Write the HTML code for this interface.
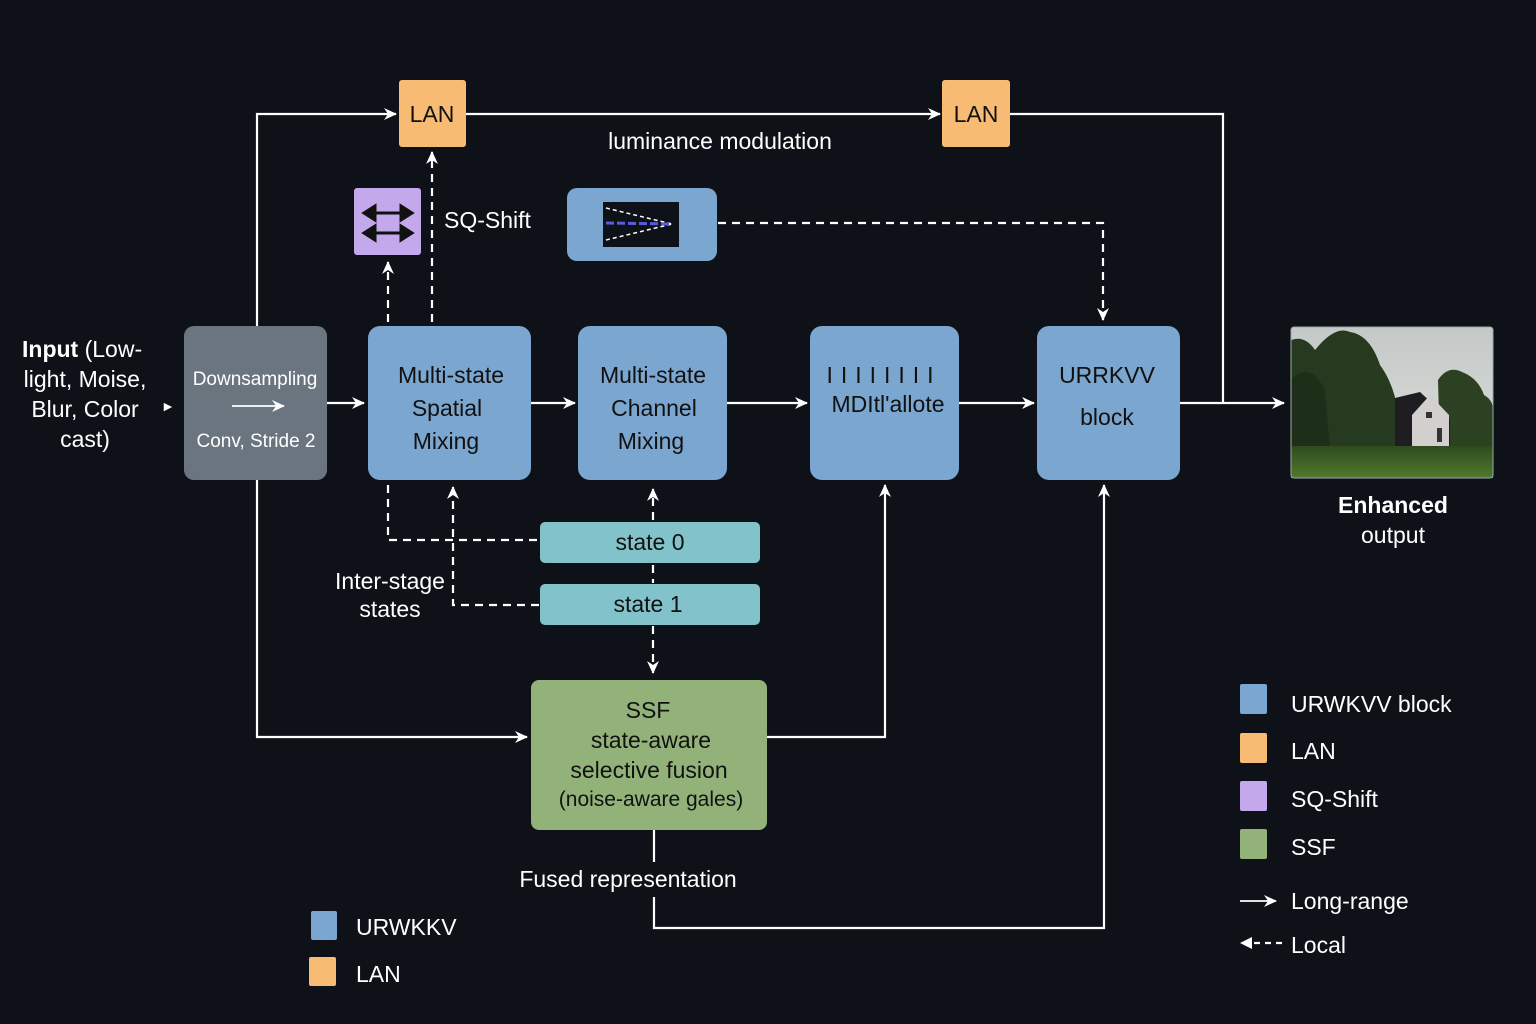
<!DOCTYPE html>
<html><head><meta charset="utf-8"><style>
html,body{margin:0;padding:0;background:#0e1118;}
svg{display:block}
text{font-family:"Liberation Sans","DejaVu Sans",sans-serif;}
</style></head><body>
<svg width="1536" height="1024" viewBox="0 0 1536 1024" xmlns="http://www.w3.org/2000/svg">
<defs>
<marker id="a" markerWidth="14" markerHeight="12" refX="12" refY="6" orient="auto" markerUnits="userSpaceOnUse"><path d="M0,0 L13,6 L0,12 L4,6 Z" fill="#fff"/></marker>
<linearGradient id="sky" x1="0" y1="0" x2="0" y2="1"><stop offset="0" stop-color="#c4c8c6"/><stop offset="1" stop-color="#dfe2de"/></linearGradient>
<linearGradient id="grass" x1="0" y1="0" x2="0" y2="1"><stop offset="0" stop-color="#2f4a1e"/><stop offset="1" stop-color="#4f7a2c"/></linearGradient>
</defs>
<rect width="1536" height="1024" fill="#0e1118"/>
<g stroke="#fff" stroke-width="2.2" fill="none">
<polyline points="257,326 257,114 396,114" marker-end="url(#a)"/>
<line x1="466" y1="114" x2="940" y2="114" marker-end="url(#a)"/>
<polyline points="1010,114 1223,114 1223,403"/>
<line x1="1180" y1="403" x2="1284" y2="403" marker-end="url(#a)"/>
<line x1="327" y1="403" x2="364" y2="403" marker-end="url(#a)"/>
<line x1="531" y1="403" x2="575" y2="403" marker-end="url(#a)"/>
<line x1="727" y1="403" x2="807" y2="403" marker-end="url(#a)"/>
<line x1="959" y1="403" x2="1034" y2="403" marker-end="url(#a)"/>
<polyline points="257,480 257,737 527,737" marker-end="url(#a)"/>
<polyline points="767,737 885,737 885,485" marker-end="url(#a)"/>
<line x1="654" y1="830" x2="654" y2="862"/>
<polyline points="654,897 654,928 1104,928 1104,485" marker-end="url(#a)"/>
<line x1="1240" y1="901" x2="1276" y2="901" stroke-width="1.8" marker-end="url(#a)"/>
</g>
<g stroke="#fff" stroke-width="2.2" fill="none" stroke-dasharray="8,6">
<line x1="432" y1="322" x2="432" y2="152" marker-end="url(#a)"/>
<line x1="388" y1="322" x2="388" y2="262" marker-end="url(#a)"/>
<polyline points="718,223 1103,223 1103,320" marker-end="url(#a)"/>
<polyline points="388,485 388,540 539,540"/>
<polyline points="539,605 453,605 453,487" marker-end="url(#a)"/>
<line x1="653" y1="520" x2="653" y2="489" marker-end="url(#a)"/>
<line x1="653" y1="565" x2="653" y2="583"/>
<line x1="653" y1="626" x2="653" y2="673" marker-end="url(#a)"/>
<line x1="1282" y1="943" x2="1250" y2="943" stroke-dasharray="6,5"/>
</g>
<path d="M1240,943 L1252,937 L1252,949 Z" fill="#fff"/>
<rect x="184" y="326" width="143" height="154" rx="10" fill="#6b7580"/>
<line x1="232" y1="406" x2="284" y2="406" stroke="#fff" stroke-width="1.8" marker-end="url(#a)"/>
<rect x="368" y="326" width="163" height="154" rx="12" fill="#7ba6cf"/>
<rect x="578" y="326" width="149" height="154" rx="12" fill="#7ba6cf"/>
<rect x="810" y="326" width="149" height="154" rx="12" fill="#7ba6cf"/>
<rect x="1037" y="326" width="143" height="154" rx="12" fill="#7ba6cf"/>
<rect x="399" y="80" width="67" height="67" rx="3" fill="#f8bb74"/>
<rect x="942" y="80" width="68" height="67" rx="3" fill="#f8bb74"/>
<rect x="354" y="188" width="67" height="67" rx="3" fill="#c4a8ec"/>
<rect x="567" y="188" width="150" height="73" rx="10" fill="#7ba6cf"/>
<rect x="603" y="202" width="76" height="45" fill="#0e1118"/>
<g stroke="#fff" stroke-width="1.5" stroke-dasharray="4,3"><line x1="606" y1="208" x2="672" y2="224"/><line x1="606" y1="240" x2="672" y2="224"/></g>
<line x1="606" y1="223" x2="672" y2="224" stroke="#5a5ae0" stroke-width="3" stroke-dasharray="8,3"/>
<rect x="540" y="522" width="220" height="41" rx="5" fill="#82c3cb"/>
<rect x="540" y="584" width="220" height="41" rx="5" fill="#82c3cb"/>
<rect x="531" y="680" width="236" height="150" rx="8" fill="#92b27a"/>
<g stroke="#111" stroke-width="3" fill="#111">
<line x1="372" y1="213" x2="404" y2="213"/><path d="M364,213 L375,206 L375,220 Z"/><path d="M412,213 L401,206 L401,220 Z"/>
<line x1="372" y1="233" x2="404" y2="233"/><path d="M364,233 L375,226 L375,240 Z"/><path d="M412,233 L401,226 L401,240 Z"/>
</g>
<g>
<rect x="1291" y="327" width="202" height="151" rx="3" fill="url(#sky)"/>
<path d="M1291,340 Q1305,335 1315,350 Q1335,325 1350,332 Q1370,335 1380,365 Q1402,395 1400,450 L1291,450 Z" fill="#253a1e"/>
<path d="M1291,450 L1291,380 Q1310,360 1325,390 L1330,450 Z" fill="#1d2f18"/>
<path d="M1440,450 L1438,380 Q1448,365 1462,372 Q1478,378 1484,395 Q1493,400 1493,410 L1493,450 Z" fill="#2b4122"/>
<path d="M1395,398 L1420,392 L1450,420 L1450,450 L1395,450 Z" fill="#1e1e22"/>
<path d="M1412,450 L1412,415 L1430,395 L1449,415 L1449,450 Z" fill="#d4cfcf"/>
<rect x="1426" y="412" width="6" height="6" fill="#333"/><rect x="1437" y="428" width="5" height="14" fill="#333"/>
<rect x="1291" y="446" width="202" height="32" fill="url(#grass)"/>
<rect x="1291" y="327" width="202" height="151" rx="3" fill="none" stroke="#9aa" stroke-width="1"/>
</g>
<rect x="1240" y="684" width="27" height="30" rx="2" fill="#7ba6cf"/>
<rect x="1240" y="733" width="27" height="30" rx="2" fill="#f8bb74"/>
<rect x="1240" y="781" width="27" height="30" rx="2" fill="#c4a8ec"/>
<rect x="1240" y="829" width="27" height="30" rx="2" fill="#92b27a"/>
<rect x="311" y="911" width="26" height="29" rx="2" fill="#7ba6cf"/>
<rect x="309" y="957" width="27" height="29" rx="2" fill="#f8bb74"/>
<g fill="#fff" font-size="23">
<text x="22" y="357"><tspan font-weight="bold">Input</tspan> (Low-</text>
<text x="85" y="387" text-anchor="middle">light, Moise,</text>
<text x="85" y="417" text-anchor="middle">Blur, Color</text>
<text x="85" y="447" text-anchor="middle">cast)</text>
<text x="720" y="149" text-anchor="middle">luminance modulation</text>
<text x="444" y="228">SQ-Shift</text>
<text x="390" y="589" text-anchor="middle">Inter-stage</text>
<text x="390" y="617" text-anchor="middle">states</text>
<text x="628" y="887" text-anchor="middle">Fused representation</text>
<text x="1393" y="513" text-anchor="middle" font-weight="bold">Enhanced</text>
<text x="1393" y="543" text-anchor="middle">output</text>
<text x="1291" y="712">URWKVV block</text>
<text x="1291" y="759">LAN</text>
<text x="1291" y="807">SQ-Shift</text>
<text x="1291" y="855">SSF</text>
<text x="1291" y="909">Long-range</text>
<text x="1291" y="953">Local</text>
<text x="356" y="935">URWKKV</text>
<text x="356" y="982">LAN</text>
<text x="161" y="411" font-size="14">►</text>
</g>
<g fill="#fff" font-size="19">
<text x="255" y="385" text-anchor="middle">Downsampling</text>
<text x="256" y="447" text-anchor="middle">Conv, Stride 2</text>
</g>
<g fill="#111" font-size="23" text-anchor="middle">
<text x="432" y="122">LAN</text>
<text x="976" y="122">LAN</text>
<text x="451" y="383">Multi-state</text>
<text x="447" y="416">Spatial</text>
<text x="446" y="449">Mixing</text>
<text x="653" y="383">Multi-state</text>
<text x="654" y="416">Channel</text>
<text x="651" y="449">Mixing</text>
<text x="884" y="383" letter-spacing="8">IIIIIIII</text>
<text x="888" y="412">MDItl'allote</text>
<text x="1107" y="383">URRKVV</text>
<text x="1107" y="425">block</text>
<text x="650" y="550">state 0</text>
<text x="648" y="612">state 1</text>
<text x="648" y="718">SSF</text>
<text x="651" y="748">state-aware</text>
<text x="649" y="778">selective fusion</text>
<text x="651" y="806" font-size="21">(noise-aware gales)</text>
</g>
</svg>
</body></html>
